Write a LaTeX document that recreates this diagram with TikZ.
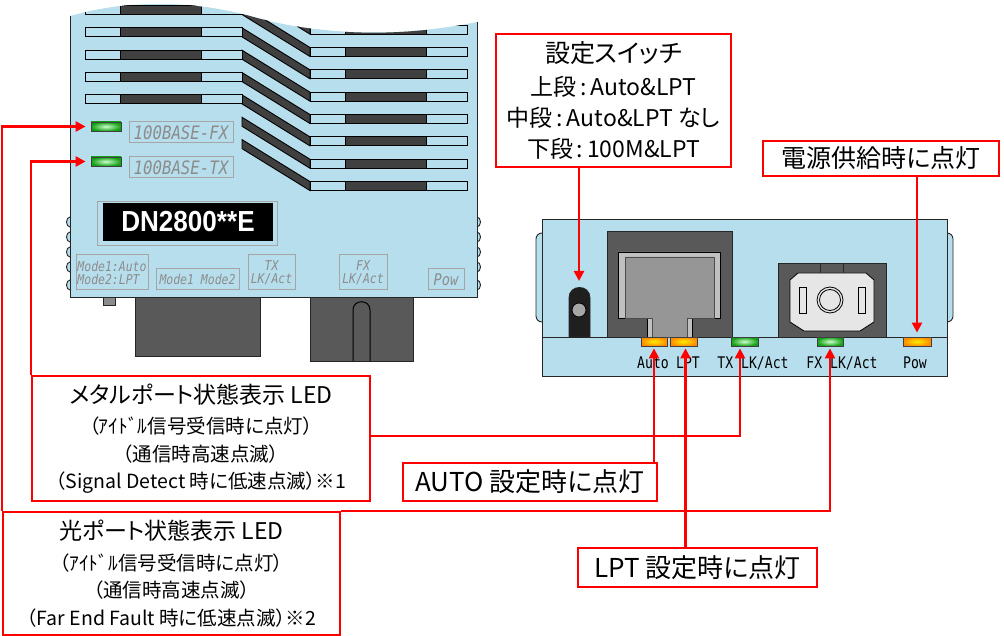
\documentclass[tikz,border=0pt]{standalone}
\usepackage{fontspec}
\setmainfont{Noto Sans CJK JP}[RawFeature=+palt]
\newfontfamily\lblfont{DejaVu Sans Mono}[FakeStretch=0.85]
\newfontfamily\rmono{DejaVu Sans Mono}[FakeStretch=0.82]
\newfontfamily\dnfont{Liberation Sans}[FakeStretch=0.9]
\usetikzlibrary{arrows.meta}
\definecolor{bodyblue}{RGB}{183,222,237}
\definecolor{portgray}{RGB}{89,89,89}
\definecolor{slotdark}{RGB}{64,64,64}
\definecolor{lblgray}{RGB}{140,140,140}
\definecolor{lblframe}{RGB}{165,165,165}
\definecolor{ledgreenout}{RGB}{20,160,20}
\definecolor{ledgreenin}{RGB}{205,255,205}
\definecolor{ledorangeout}{RGB}{255,140,0}
\definecolor{ledorangein}{RGB}{255,238,0}
\definecolor{jackframe}{RGB}{192,192,192}
\definecolor{jackin}{RGB}{150,150,150}
\definecolor{fiberin}{RGB}{230,230,230}
\definecolor{tabgray}{RGB}{140,140,140}
\begin{document}
\begin{tikzpicture}[x=1pt,y=-1pt,
  conn/.style={draw=red, line width=2.3pt},
  arr/.style={conn, -{Triangle[length=10pt,width=10pt]}},
  callout/.style={draw=red, line width=2.2pt, fill=white, inner sep=0pt, align=center},
  devline/.style={draw=black!85, line width=0.9pt},
  slot/.style={fill=bodyblue, draw=black, line width=0.9pt},
  slotbar/.style={fill=slotdark, draw=black, line width=0.9pt},
  led/.style={draw=black!75, line width=0.8pt, minimum height=9pt, inner sep=0pt},
  ledg/.style={led, inner color=ledgreenin, outer color=ledgreenout},
  ledo/.style={led, inner color=ledorangein, outer color=ledorangeout},
  devlbl/.style={draw=lblframe, line width=1pt, text=lblgray, inner sep=0pt, align=center},
  smalllbl/.style={devlbl, font=\lblfont\itshape\fontsize{13.5}{13}\selectfont},
  portlbl/.style={font=\rmono\fontsize{16}{16}\selectfont, inner sep=0pt},
]
\useasboundingbox (0,0) rectangle (1004,636);

% ---------------- left device ----------------
\foreach \yy in {222,237,252,267,285} {
  \filldraw[fill=bodyblue, devline] (70,\yy) ellipse (3.5 and 5);
  \filldraw[fill=bodyblue, devline] (477,\yy) ellipse (3.5 and 5);
}
\filldraw[fill=portgray, devline] (135,297) rectangle (260,356);
\filldraw[fill=portgray, devline] (310,297) rectangle (413,361);
\draw[black, line width=1pt] (353,361) -- (353,310) .. controls (353,299) and (370,299) .. (370,310) -- (370,361);
\filldraw[fill=tabgray, devline] (103,297) rectangle (115,305);

\begin{scope}
  \clip (70,297) -- (70,16) .. controls (140,-3) and (200,3) .. (250,16)
        .. controls (320,36) and (400,38) .. (477,22) -- (477,297) -- cycle;
  \fill[bodyblue] (60,-20) rectangle (490,300);
  \foreach \k in {-1,...,6} {
    \pgfmathsetmacro\ya{5.5+22.35*\k}
    \pgfmathsetmacro\yb{\ya+9}
    \pgfmathsetmacro\yc{\ya+42}
    \pgfmathsetmacro\yd{\ya+51}
    \filldraw[slotbar] (242,\ya) -- (310,\yc) -- (310,\yd) -- (242,\yb) -- cycle;
    \filldraw[slot] (310,\yc) rectangle (467,\yd);
    \filldraw[slotbar] (345,\yc) rectangle (426,\yd);
  }
  \foreach \k in {0,...,4} {
    \pgfmathsetmacro\ya{5.5+22.35*\k}
    \pgfmathsetmacro\yb{\ya+9}
    \filldraw[slot] (85,\ya) rectangle (242,\yb);
    \filldraw[slotbar] (120,\ya) rectangle (201,\yb);
  }
\end{scope}
\draw[devline] (70,16) -- (70,297) -- (477,297) -- (477,22);

\node[ledg, minimum width=30pt] (lledfx) at (106,126.5) {};
\node[ledg, minimum width=30pt] (lledtx) at (106,161.5) {};
\node[devlbl, minimum width=104pt, minimum height=21pt, font=\lblfont\itshape\fontsize{18.5}{18}\selectfont] (lbfx) at (181,132.5) {100BASE-FX};
\node[devlbl, minimum width=104pt, minimum height=21pt, font=\lblfont\itshape\fontsize{18.5}{18}\selectfont] (lbtx) at (181,167.5) {100BASE-TX};

\node[draw=lblframe, line width=1pt, minimum width=180pt, minimum height=44pt, inner sep=0pt] (dnframe) at (187,224) {};
\node[fill=black, minimum width=170pt, minimum height=38pt, inner sep=0pt, text=white, font=\dnfont\bfseries\fontsize{29}{29}\selectfont] (dn) at (188,222) {DN2800**E};

\node[smalllbl, align=left, minimum width=72pt, minimum height=35pt] (lbmode) at (112,272.5) {Mode1:Auto\\Mode2:LPT};
\node[smalllbl, minimum width=83pt, minimum height=21pt] (lbmm) at (197.5,279.5) {Mode1 Mode2};
\node[smalllbl, minimum width=47pt, minimum height=35pt] (lbtxa) at (271.5,272.5) {TX\\LK/Act};
\node[smalllbl, minimum width=48pt, minimum height=35pt] (lbfxa) at (363,272.5) {FX\\LK/Act};
\node[devlbl, minimum width=36pt, minimum height=21pt, font=\lblfont\itshape\fontsize{16}{16}\selectfont] (lbpow) at (446,279.5) {Pow};

% ---------------- right device ----------------
\filldraw[fill=bodyblue, devline, rounded corners=6pt] (536,233) rectangle (552,322);
\filldraw[fill=bodyblue, devline, rounded corners=6pt] (937,233) rectangle (953,322);
\filldraw[fill=bodyblue, devline] (542,219) rectangle (947,376);
\draw[devline] (542,337) -- (947,337);

% switch
\filldraw[fill=black!88, devline] (569,337) -- (569,298) .. controls (569,284) and (590,284) .. (590,298) -- (590,337) -- cycle;
\filldraw[fill=gray!70, draw=black, line width=0.8pt] (579,310) circle (7);
\coordinate (swtip) at (579,281);

% RJ45
\filldraw[fill=portgray, devline] (607,231) rectangle (732,337);
\filldraw[fill=jackframe, draw=black, line width=0.8pt] (618,252) -- (720,252) -- (720,318) -- (692,318) -- (692,337) -- (647,337) -- (647,318) -- (618,318) -- cycle;
\filldraw[fill=jackin, draw=black!70, line width=0.6pt] (625,257) -- (714,257) -- (714,318) -- (687,318) -- (687,337) -- (652,337) -- (652,318) -- (625,318) -- cycle;

% fiber port
\filldraw[fill=portgray, devline] (778,263) rectangle (886,337);
\filldraw[fill=portgray, devline] (820,263) rectangle (843,273);
\filldraw[fill=fiberin, draw=black, line width=0.8pt] (798,273) -- (866,273) -- (874,280) -- (874,322) -- (860,331) -- (804,331) -- (790,322) -- (790,280) -- cycle;
\filldraw[fill=fiberin, draw=black, line width=0.7pt] (799,287) rectangle (806,313);
\filldraw[fill=fiberin, draw=black, line width=0.7pt] (858,287) rectangle (865,313);
\draw[black, line width=0.8pt] (830,300) circle (13);
\filldraw[fill=fiberin, draw=black, line width=0.8pt] (830,300) circle (10.5);

% LEDs
\node[ledo, minimum width=26pt] (ledauto) at (654,341.5) {};
\node[ledo, minimum width=27pt] (ledlpt) at (683.5,341.5) {};
\node[ledg, minimum width=27pt] (ledtx) at (744.5,341.5) {};
\node[ledg, minimum width=26pt] (ledfx) at (830,341.5) {};
\node[ledo, minimum width=28pt] (ledpow) at (917,341.5) {};

\node[portlbl] (tauto) at (653,363) {Auto};
\node[portlbl] (tlpt) at (688,363) {LPT};
\node[portlbl] (ttx) at (753,363) {TX LK/Act};
\node[portlbl] (tfx) at (842,363) {FX LK/Act};
\node[portlbl] (tpow) at (915,363) {Pow};

% ---------------- callouts ----------------
\node[callout, minimum width=235pt, minimum height=133pt, font=\fontsize{23}{31}\selectfont] (sw) at (613.5,100.5)
  {{\fontsize{25}{31}\selectfont 設定スイッチ}\\[2pt]上段\,:\,Auto\&LPT\\中段\,:\,Auto\&LPT なし\\下段\,:\,100M\&LPT};
\node[callout, minimum width=236pt, minimum height=35pt, font=\fontsize{25}{30}\selectfont] (pw) at (881,158.5) {電源供給時に点灯};
\node[callout, minimum width=338pt, minimum height=125pt, font=\fontsize{19.5}{27.5}\selectfont] (metal) at (201,438.5)
  {{\fontsize{23}{27.5}\selectfont メタルポート状態表示 LED}\\[3pt]（ｱｲﾄﾞﾙ信号受信時に点灯）\\（通信時高速点滅）\\（Signal Detect 時に低速点滅）※1};
\node[callout, minimum width=337pt, minimum height=123pt, font=\fontsize{19.5}{27.5}\selectfont] (opt) at (171.5,573.5)
  {{\fontsize{23}{27.5}\selectfont 光ポート状態表示 LED}\\[3pt]（ｱｲﾄﾞﾙ信号受信時に点灯）\\（通信時高速点滅）\\（Far End Fault 時に低速点滅）※2};
\node[callout, minimum width=254pt, minimum height=38pt, font=\fontsize{26}{30}\selectfont] (autob) at (530,482) {AUTO 設定時に点灯};
\node[callout, minimum width=239pt, minimum height=39pt, font=\fontsize{26}{30}\selectfont] (lptb) at (697.5,567.5) {LPT 設定時に点灯};

% ---------------- connectors ----------------
\coordinate (powtip) at ([yshift=4pt]ledpow.north);
\coordinate (txtip) at ([xshift=-4.5pt,yshift=-2pt]ledtx.south);
\coordinate (fxtip) at ([yshift=-2pt]ledfx.south);
\coordinate (autotip) at ([yshift=-2pt]ledauto.south);
\coordinate (lpttip) at ([xshift=2pt,yshift=-2pt]ledlpt.south);
\coordinate (ltxtip) at ([xshift=-5pt]lledtx.west);
\coordinate (lfxtip) at ([xshift=-5pt]lledfx.west);
\coordinate (metalout) at ([yshift=2.5pt]metal.east);

\draw[arr] (swtip |- sw.south) -- (swtip);
\draw[arr] (powtip |- pw.south) -- (powtip);
\draw[arr] (metalout) -| (txtip);
\draw[arr] (metal.north west) |- (ltxtip);
\draw[arr] (opt.north west) |- (lfxtip);
\draw[arr] (opt.north east) -| (fxtip);
\draw[arr] (autotip |- autob.north) -- (autotip);
\draw[arr] (lpttip |- lptb.north) -- (lpttip);
\end{tikzpicture}
\end{document}
